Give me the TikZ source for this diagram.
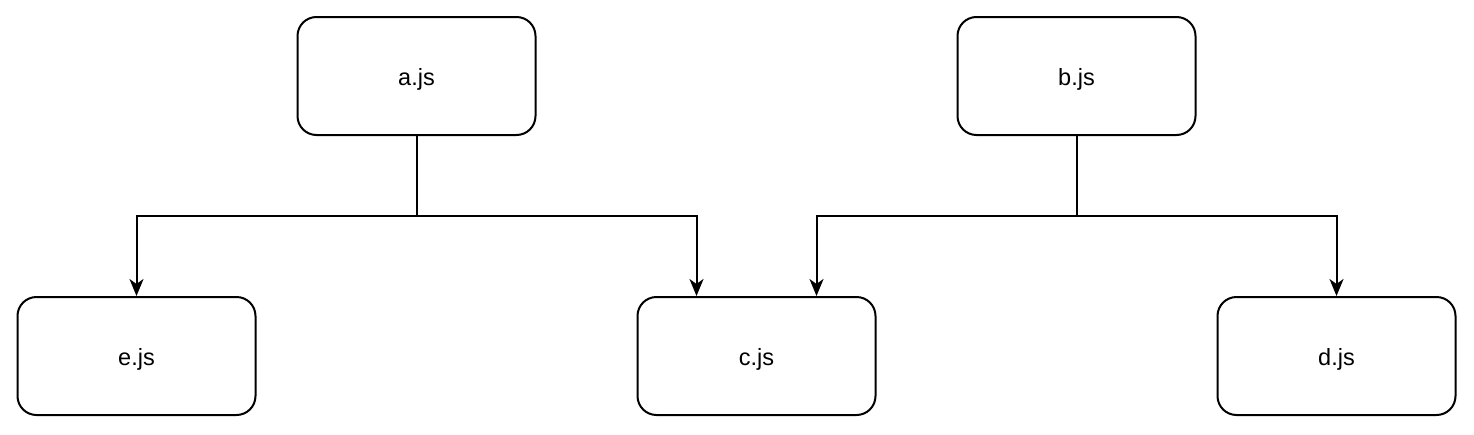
\documentclass[tikz,border=0pt]{standalone}
\usepackage{fontspec}
\setmainfont{Liberation Sans}
\usetikzlibrary{arrows.meta}
\begin{document}
\begin{tikzpicture}[x=1pt,y=-1pt,
  filebox/.style={draw=black,line width=2pt,rounded corners=19pt,minimum width=238pt,minimum height=118pt,inner sep=0pt,font=\fontsize{23.5}{28}\selectfont,fill=white,text depth=0pt},
  link/.style={draw=black,line width=2pt},
  arr/.style={link,-{Stealth[length=17pt,width=14pt,inset=5pt]}}]
\useasboundingbox (0,0) rectangle (1474,434);
\node[filebox] (a) at (416.5,76) {\raisebox{-2pt}{a.js}};
\node[filebox] (b) at (1076.5,76) {\raisebox{-2pt}{b.js}};
\node[filebox] (e) at (136.5,356) {\raisebox{-2pt}{e.js}};
\node[filebox] (c) at (756.5,356) {\raisebox{-2pt}{c.js}};
\node[filebox] (d) at (1336.5,356) {\raisebox{-2pt}{d.js}};
\coordinate (aj) at (416.5,216);
\coordinate (bj) at (1076.5,216);
\draw[link] (a.south) -- (aj);
\draw[arr] (aj) -| (e.north);
\draw[arr] (aj) -| ([xshift=-60pt]c.north);
\draw[link] (b.south) -- (bj);
\draw[arr] (bj) -| ([xshift=60pt]c.north);
\draw[arr] (bj) -| (d.north);
\end{tikzpicture}
\end{document}
